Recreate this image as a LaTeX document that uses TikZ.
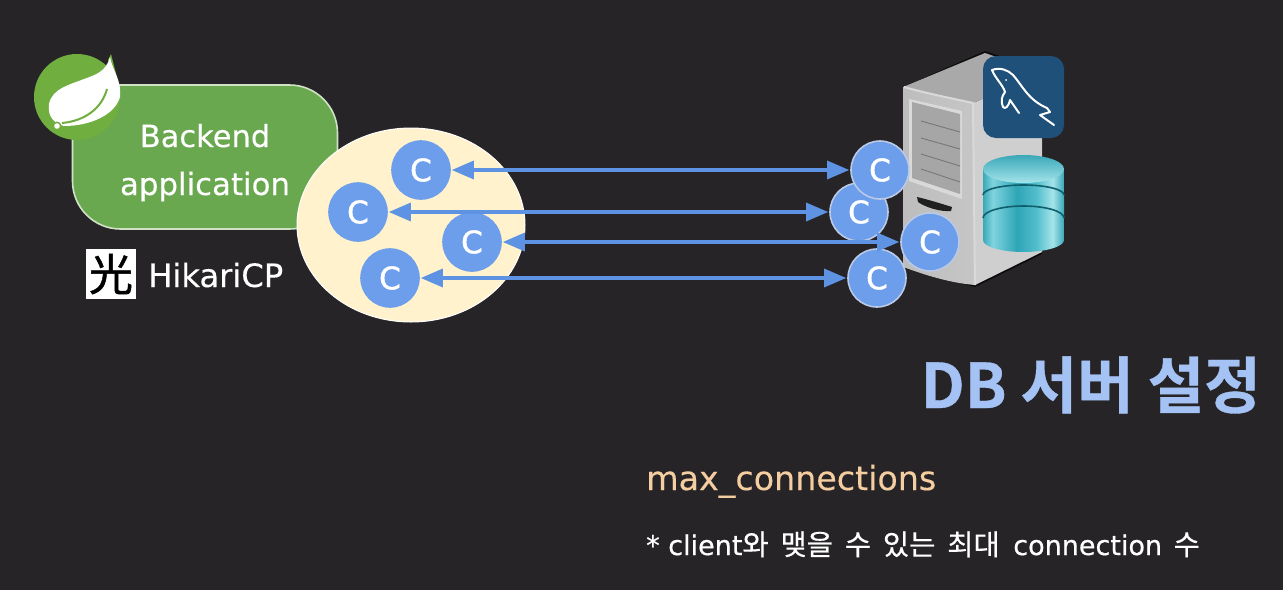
\documentclass[tikz,border=0pt]{standalone}
\usepackage{fontspec}
\setmainfont{DejaVu Sans}
\newfontfamily\krfont{Noto Sans CJK KR}
\newfontfamily\krheavy[FakeBold=0.5]{Noto Sans CJK KR}
\newfontfamily\krtitle[FakeBold=0.6]{Noto Sans CJK KR Bold}
\newfontfamily\jpfont[FakeBold=1]{Noto Sans CJK JP}
\newfontfamily\softbold[FakeBold=0.5]{DejaVu Sans}
\newfontfamily\softmed[FakeBold=0.25]{DejaVu Sans}
\newfontfamily\connfont[FakeBold=1.4]{DejaVu Sans}
\newcommand{\pxsize}[1]{\fontsize{#1}{#1}\selectfont}
\usetikzlibrary{arrows.meta,shapes.geometric}
\definecolor{bgdark}{HTML}{262426}
\definecolor{boxgreen}{HTML}{6AA84F}
\definecolor{boxedge}{HTML}{CFE2C6}
\definecolor{springgreen}{HTML}{70AE3F}
\definecolor{poolcream}{HTML}{FFF2CC}
\definecolor{connblue}{HTML}{6D9EEB}
\definecolor{connedge}{HTML}{B9C9E6}
\definecolor{arrowblue}{HTML}{5E93E3}
\definecolor{titleblue}{HTML}{A4C2F4}
\definecolor{paramorange}{HTML}{F4CDA0}
\definecolor{mysqlblue}{HTML}{1F5079}
\definecolor{tealgroove}{HTML}{0F5F6C}
\definecolor{tealA}{HTML}{3AA8B8}
\definecolor{tealB}{HTML}{7FD4DF}
\definecolor{tealC}{HTML}{2FA5B6}
\definecolor{tealD}{HTML}{52BECD}
\definecolor{tealE}{HTML}{A5E4EA}
\definecolor{srvfront}{HTML}{C6C6C6}
\definecolor{srvfrontb}{HTML}{BDBDBD}
\definecolor{srvtop}{HTML}{A9A9A9}
\definecolor{srvside}{HTML}{CFCFCF}
\definecolor{srvpanel}{HTML}{A6A6A6}
\definecolor{srvframe}{HTML}{D9D9D9}
\definecolor{srvline}{HTML}{777777}
\pgfdeclarehorizontalshading{tealband}{100bp}{
  color(0bp)=(tealA); color(25bp)=(tealA); color(31bp)=(tealB); color(46bp)=(tealC);
  color(58bp)=(tealD); color(68bp)=(tealE); color(75bp)=(tealA); color(100bp)=(tealA)}
\tikzset{
  conn/.style={circle,fill=connblue,draw=#1,line width=1.6pt,minimum size=58pt,inner sep=0pt,
    text=white,font=\connfont\pxsize{31}},
  conn/.default=connedge,
  link/.style={draw=arrowblue,line width=3.2pt,{Triangle[length=22pt,width=18pt]}-{Triangle[length=22pt,width=18pt]},shorten <=1pt,shorten >=1pt},
  tier/.style={shading=tealband,draw=none},
  groove/.style={draw=tealgroove,line width=1.6pt},
}
\begin{document}
\begin{tikzpicture}[x=1pt,y=-1pt]
\useasboundingbox[fill=bgdark] (0,0) rectangle (1283,590);

% backend box
\node[draw=boxedge,fill=boxgreen,line width=1.6pt,rounded corners=48pt,minimum width=265pt,minimum height=144pt,inner sep=0pt] (backend) at (205,157) {};
\node[text=white,font=\softmed\pxsize{30.5},inner sep=0pt,anchor=base] (backendt) at (205,147) {Backend};
\node[text=white,font=\softmed\pxsize{30.8},inner sep=0pt,anchor=base] (appt) at (205,195) {application};

% spring logo
\fill[springgreen] (77,97) circle[radius=43];
\fill[springgreen] (108,60) -- (111,54) -- (119,85) -- cycle;
\fill[white] (110,57) .. controls (112,70) and (122,80) .. (120,97)
  .. controls (115,115) and (90,126) .. (64,126)
  .. controls (56,124) and (47,118) .. (49,104)
  .. controls (52,88) and (72,84) .. (84,79)
  .. controls (95,75) and (106,72) .. (110,57) -- cycle;
\draw[springgreen,line width=2pt] (62,123) .. controls (85,121) and (102,108) .. (107,89);
\fill[springgreen] (57,126) circle[radius=4.5];
\fill[white] (57,126) circle[radius=2.8];

% pool
\node[ellipse,fill=poolcream,draw=white,line width=1pt,minimum width=228pt,minimum height=194pt,inner sep=0pt] (pool) at (411,225) {};

% hikari
\node[fill=white,draw=white,minimum size=49pt,inner sep=0pt,text=black,font=\jpfont\pxsize{44}] (hlogo) at (111,274) {光};
\node[anchor=base west,inner sep=0pt,text=white,font=\softmed\pxsize{32.2}] (hikari) at (148,287) {HikariCP};

% server
\fill[black!70!bgdark] (903,87) -- (985,51) -- (1042,70) -- (1042,254) -- (975,287) -- (903,268) -- cycle;
\fill[srvside] (973,103) -- (1042,73) -- (1042,252) -- (975,285) -- cycle;
\fill[srvtop] (903,87) -- (985,53) -- (1042,73) -- (973,103) -- cycle;
\fill[left color=srvfrontb,right color=srvfront] (903,87) .. controls (925,94) and (950,98) .. (973,103)
  -- (975,285) .. controls (950,283) and (925,275) .. (903,267) -- cycle;
\draw[srvframe,line width=2pt] (904,87) .. controls (925,93) and (950,98) .. (973,103) -- (975,285);
\fill[srvframe] (909,99) -- (962,111) -- (962,199) -- (909,181) -- cycle;
\fill[srvpanel] (912,102) -- (960,114) -- (960,194) -- (912,178) -- cycle;
\draw[srvline,line width=.9pt] (921,121) -- (960,132);
\draw[srvline,line width=.9pt] (921,138) -- (960,149);
\draw[srvline,line width=.9pt] (921,154) -- (960,166);
\draw[srvline,line width=.9pt] (921,169) -- (960,182);
\fill[black!75!gray] (917,197) .. controls (930,200) and (942,204) .. (952,207) -- (951,211) .. controls (940,212) and (925,207) .. (918,202) -- cycle;

% mysql
\fill[mysqlblue] (983,56) [rounded corners=13pt] rectangle (1064,138);
\draw[white,line width=2pt,line join=round,line cap=round] (992,70) .. controls (1000,67) and (1008,70) .. (1013,75)
  .. controls (1022,85) and (1028,100) .. (1047,108)
  -- (1050,112) -- (1040,115) -- (1054,125);
\draw[white,line width=2pt,line join=round,line cap=round] (992,70) .. controls (995,78) and (1003,85) .. (1005,92)
  .. controls (1001,97) and (1001,102) .. (1003,107)
  .. controls (1005,109) and (1008,108) .. (1010,100) -- (1019,113);
\fill[white] (1006,80) circle[radius=1];

% database
\path[tier] (983,218) -- (1064,218) -- (1064,240) arc[start angle=0,end angle=180,x radius=40.5,y radius=12] -- cycle;
\path[tier] (983,195) -- (1064,195) -- (1064,218) arc[start angle=0,end angle=180,x radius=40.5,y radius=12] -- cycle;
\path[tier] (983,169) -- (1064,169) -- (1064,195) arc[start angle=0,end angle=180,x radius=40.5,y radius=10] -- cycle;
\draw[groove] (983,195) arc[start angle=180,end angle=360,x radius=40.5,y radius=10];
\draw[groove] (983,218) arc[start angle=180,end angle=360,x radius=40.5,y radius=12];
\shade[bottom color=tealE,top color=tealA] (1023.5,169) ellipse[x radius=40.5,y radius=14];

% connections, pool side
\node[conn=connblue] (c1) at (421,170) {C};
\node[conn=connblue] (c2) at (358,212) {C};
\node[conn=connblue] (c3) at (472,242) {C};
\node[conn=connblue] (c4) at (390,278) {C};

% connections, server side
\node[conn] (s2) at (859,212) {C};
\node[conn] (s1) at (880,170) {C};
\node[conn] (s4) at (877,278) {C};
\node[conn] (s3) at (930,242) {C};

% links
\draw[link] (c1.east) -- (s1.west);
\draw[link] (c2.east) -- (s2.west);
\draw[link] (c3.east) -- (s3.west);
\draw[link] (c4.east) -- (s4.west);

% texts
\node[anchor=base east,inner sep=0pt,text=titleblue,font=\krtitle\pxsize{61.5}] (title) at (1261,408) {DB 서버 설정};
\node[anchor=base west,inner sep=0pt,text=paramorange,font=\softmed\pxsize{33.3}] (param) at (646,490) {max\_connections};
\node[anchor=base west,inner sep=0pt,text=white,font=\softbold\pxsize{27}] (note) at (646,555)
  {* client{\krheavy\pxsize{28.5}와\hspace{5.5pt} 맺을\hspace{5.5pt} 수\hspace{5.5pt} 있는\hspace{5.5pt} 최대}\hspace{5pt} connection\hspace{3pt} {\krheavy\pxsize{28.5}수}};
\end{tikzpicture}
\end{document}
